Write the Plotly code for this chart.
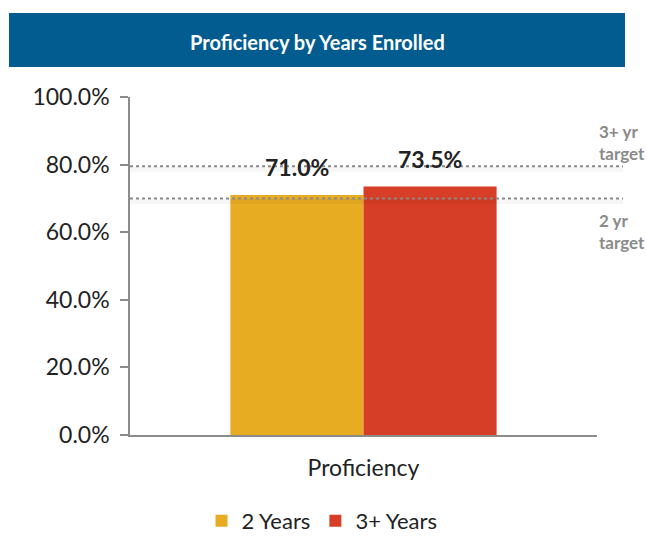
import plotly.graph_objects as go

categories = ["Proficiency"]
series_names = ["2 Years", "3+ Years"]
series_values = [[0.71], [0.735]]
series_colors = ["#E8AC22", "#D63E27"]
targets = [0.795, 0.70]
target_labels = ["3+ yr<br>target", "2 yr<br>target"]
tick_vals = [0, 0.2, 0.4, 0.6, 0.8, 1.0]

W, H = 647, 536
L, R, T, B = 130, 50, 97, 101
pw, ph = W - L - R, H - T - B
BARGAP = 0.43

def px_x(x):
    return (x - L) / pw

def px_y(y):
    return (H - B - y) / ph

fig = go.Figure()
for name, vals, col in zip(series_names, series_values, series_colors):
    fig.add_trace(go.Bar(
        x=categories, y=vals, name=name, marker=dict(color=col, line=dict(width=0)),
    ))

shapes = [
    dict(type="rect", xref="paper", yref="paper", x0=px_x(9), x1=px_x(625),
         y0=px_y(67), y1=px_y(13), fillcolor="#025C8F", line=dict(width=0), layer="below"),
]
for t in targets:
    shapes.append(dict(type="line", xref="paper", yref="y", x0=0, x1=px_x(623),
                       y0=t - 0.009, y1=t - 0.009, line=dict(color="rgba(0,0,0,0.035)", width=5), layer="above"))
    shapes.append(dict(type="line", xref="paper", yref="y", x0=0, x1=px_x(623),
                       y0=t, y1=t, line=dict(color="#8A8A8A", width=2, dash="dot"), layer="above"))

annotations = [
    dict(text="<b>Proficiency by Years Enrolled</b>", xref="paper", yref="paper",
         x=px_x(317), y=px_y(42), showarrow=False,
         font=dict(family="Lato", size=20, color="white"), xanchor="center", yanchor="middle"),
]
# data labels above bars
n = len(series_names)
bw = (1 - BARGAP) / n
for i, vals in enumerate(series_values):
    for ci, v in enumerate(vals):
        xc = ci - (1 - BARGAP) / 2 + bw * (i + 0.5)
        annotations.append(dict(text=f"<b>{v*100:.1f}%</b>", x=xc, y=v, xref="x", yref="y",
                                showarrow=False, yanchor="bottom", yshift=12,
                                font=dict(family="Lato", size=23, color="#222222")))

label_pos = [(597, 142), (597, 231)]
for lab, (ax, ay) in zip(target_labels, label_pos):
    annotations.append(dict(text=f"<b>{lab}</b>", xref="paper", yref="paper",
                            x=px_x(ax), y=px_y(ay), showarrow=False, align="left",
                            xanchor="left", yanchor="middle",
                            font=dict(family="Lato", size=17, color="#8A8A8A")))

fig.update_layout(
    width=W, height=H, margin=dict(l=L, r=R, t=T, b=B, autoexpand=False),
    paper_bgcolor="white", plot_bgcolor="white",
    barmode="group", bargap=BARGAP, bargroupgap=0,
    shapes=shapes, annotations=annotations,
    showlegend=True,
    legend=dict(orientation="h", x=px_x(322), y=px_y(521), xanchor="center", yanchor="middle",
                font=dict(family="Lato", size=22, color="#222222"), itemwidth=30,
                traceorder="normal"),
    font=dict(family="Lato"),
)
fig.update_yaxes(range=[0, 1], tickvals=tick_vals, tickformat=".1%", automargin=False,
                 showgrid=False, zeroline=False, showline=True, linecolor="#8C8C8C", linewidth=1.5,
                 ticks="outside", ticklen=8, tickcolor="#8C8C8C", tickwidth=1.5,
                 tickfont=dict(family="Lato", size=23, color="#222222"), ticklabelstandoff=6)
fig.update_xaxes(showgrid=False, showline=True, linecolor="#8C8C8C", linewidth=1.5, automargin=False,
                 ticks="", tickfont=dict(family="Lato", size=23, color="#222222"),
                 ticklabelstandoff=12)

fig.write_html("out.html", config={"displayModeBar": False},
               post_script="document.body.style.margin='0';document.body.style.overflow='hidden';")
